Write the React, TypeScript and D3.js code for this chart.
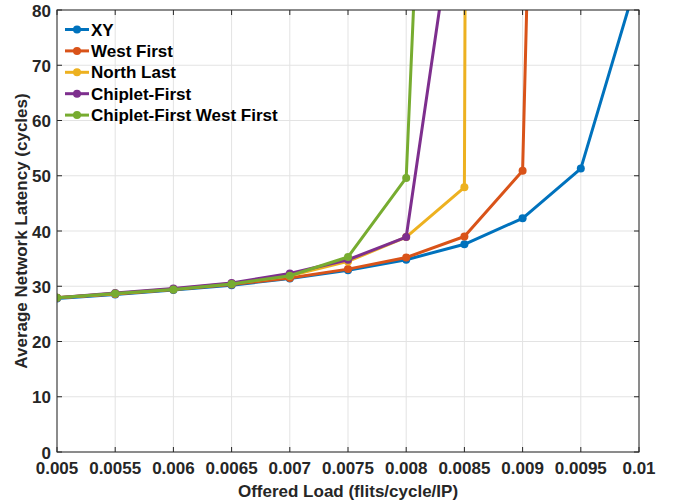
import React from 'react'
import * as d3 from 'd3'

// offered load (flits/cycle/IP)
const loads = [0.005, 0.0055, 0.006, 0.0065, 0.007, 0.0075, 0.008, 0.0085, 0.009, 0.0095, 0.01]

// average latency (cycles) per routing algorithm; last points saturate above the axis
const xyLatency = [27.8, 28.5, 29.3, 30.2, 31.4, 32.9, 34.8, 37.6, 42.3, 51.3, 86.7]
const westFirstLatency = [27.9, 28.6, 29.4, 30.3, 31.5, 33.1, 35.2, 39.0, 50.9, 470]
const northLastLatency = [27.9, 28.7, 29.5, 30.5, 31.9, 34.5, 38.9, 47.9, 3000]
const chipletFirstLatency = [27.9, 28.8, 29.6, 30.6, 32.3, 34.8, 38.9, 111]
const chipletWestLatency = [27.9, 28.7, 29.4, 30.4, 31.9, 35.3, 49.6, 293]

const seriesNames = ['XY', 'West First', 'North Last', 'Chiplet-First', 'Chiplet-First West First']
const seriesColors = ['#0072BD', '#D95319', '#EDB120', '#7E2F8E', '#77AC30']
const seriesValues = [xyLatency, westFirstLatency, northLastLatency, chipletFirstLatency, chipletWestLatency]

const xTicks = [0.005, 0.0055, 0.006, 0.0065, 0.007, 0.0075, 0.008, 0.0085, 0.009, 0.0095, 0.01]
const xTickLabels = ['0.005', '0.0055', '0.006', '0.0065', '0.007', '0.0075', '0.008', '0.0085', '0.009', '0.0095', '0.01']
const yTicks = [0, 10, 20, 30, 40, 50, 60, 70, 80]

const FONT = "'Liberation Sans', Arial, Helvetica, sans-serif"

export default function App() {
  const width = 681
  const height = 504
  const margin = { top: 10, right: 42, bottom: 52, left: 57 }
  const innerW = width - margin.left - margin.right
  const innerH = height - margin.top - margin.bottom

  const x = d3.scaleLinear().domain([0.005, 0.01]).range([0, innerW])
  const y = d3.scaleLinear().domain([0, 80]).range([innerH, 0])

  const line = d3.line<[number, number]>()
    .x(d => x(d[0]))
    .y(d => y(d[1]))

  const axisColor = '#262626'
  const tickLen = 5

  return (
    <svg width={width} height={height} style={{ position: 'absolute', left: 0, top: 0, background: '#fff' }}>
      <defs>
        <clipPath id="plot-clip">
          <rect x={0} y={0} width={innerW} height={innerH} />
        </clipPath>
      </defs>
      <g transform={`translate(${margin.left},${margin.top})`}>
        {/* grid */}
        {xTicks.map((t, i) => (
          <line key={'gx' + i} x1={x(t)} x2={x(t)} y1={0} y2={innerH} stroke="#e3e3e3" strokeWidth={1} />
        ))}
        {yTicks.map((t, i) => (
          <line key={'gy' + i} x1={0} x2={innerW} y1={y(t)} y2={y(t)} stroke="#e3e3e3" strokeWidth={1} />
        ))}

        {/* series */}
        <g clipPath="url(#plot-clip)">
          {seriesValues.map((vals, si) => {
            const pts: [number, number][] = vals.map((v, i) => [loads[i], v])
            return (
              <g key={'s' + si}>
                <path d={line(pts) || ''} fill="none" stroke={seriesColors[si]} strokeWidth={3} strokeLinejoin="round" />
                {pts.map((p, i) => (
                  <circle key={i} cx={x(p[0])} cy={y(p[1])} r={4} fill={seriesColors[si]} />
                ))}
              </g>
            )
          })}
        </g>

        {/* box + ticks */}
        <rect x={0} y={0} width={innerW} height={innerH} fill="none" stroke={axisColor} strokeWidth={1} />
        {xTicks.map((t, i) => (
          <g key={'xt' + i}>
            <line x1={x(t)} x2={x(t)} y1={innerH} y2={innerH - tickLen} stroke={axisColor} />
            <line x1={x(t)} x2={x(t)} y1={0} y2={tickLen} stroke={axisColor} />
            <text x={x(t)} y={innerH + 22} textAnchor="middle" fontFamily={FONT} fontWeight="bold" fontSize={17} fill={axisColor}>
              {xTickLabels[i]}
            </text>
          </g>
        ))}
        {yTicks.map((t, i) => (
          <g key={'yt' + i}>
            <line x1={0} x2={tickLen} y1={y(t)} y2={y(t)} stroke={axisColor} />
            <line x1={innerW} x2={innerW - tickLen} y1={y(t)} y2={y(t)} stroke={axisColor} />
            <text x={-6} y={y(t) + 6.5} textAnchor="end" fontFamily={FONT} fontWeight="bold" fontSize={17} fill={axisColor}>
              {t}
            </text>
          </g>
        ))}

        {/* axis labels */}
        <text x={innerW / 2} y={innerH + 45} textAnchor="middle" fontFamily={FONT} fontWeight="bold" fontSize={17} fill={axisColor}>
          Offered Load (flits/cycle/IP)
        </text>
        <text transform={`translate(${-30},${innerH / 2}) rotate(-90)`} textAnchor="middle" fontFamily={FONT} fontWeight="bold" fontSize={17} fill={axisColor}>
          Average Network Latency (cycles)
        </text>

        {/* legend */}
        {seriesNames.map((name, i) => {
          const ly = 19.5 + i * 21.4
          return (
            <g key={'lg' + i}>
              <line x1={8} x2={32} y1={ly} y2={ly} stroke={seriesColors[i]} strokeWidth={3} />
              <circle cx={20} cy={ly} r={4} fill={seriesColors[i]} />
              <text x={34} y={ly + 6} fontFamily={FONT} fontWeight="bold" fontSize={17} fill="#000">
                {name}
              </text>
            </g>
          )
        })}
      </g>
    </svg>
  )
}
